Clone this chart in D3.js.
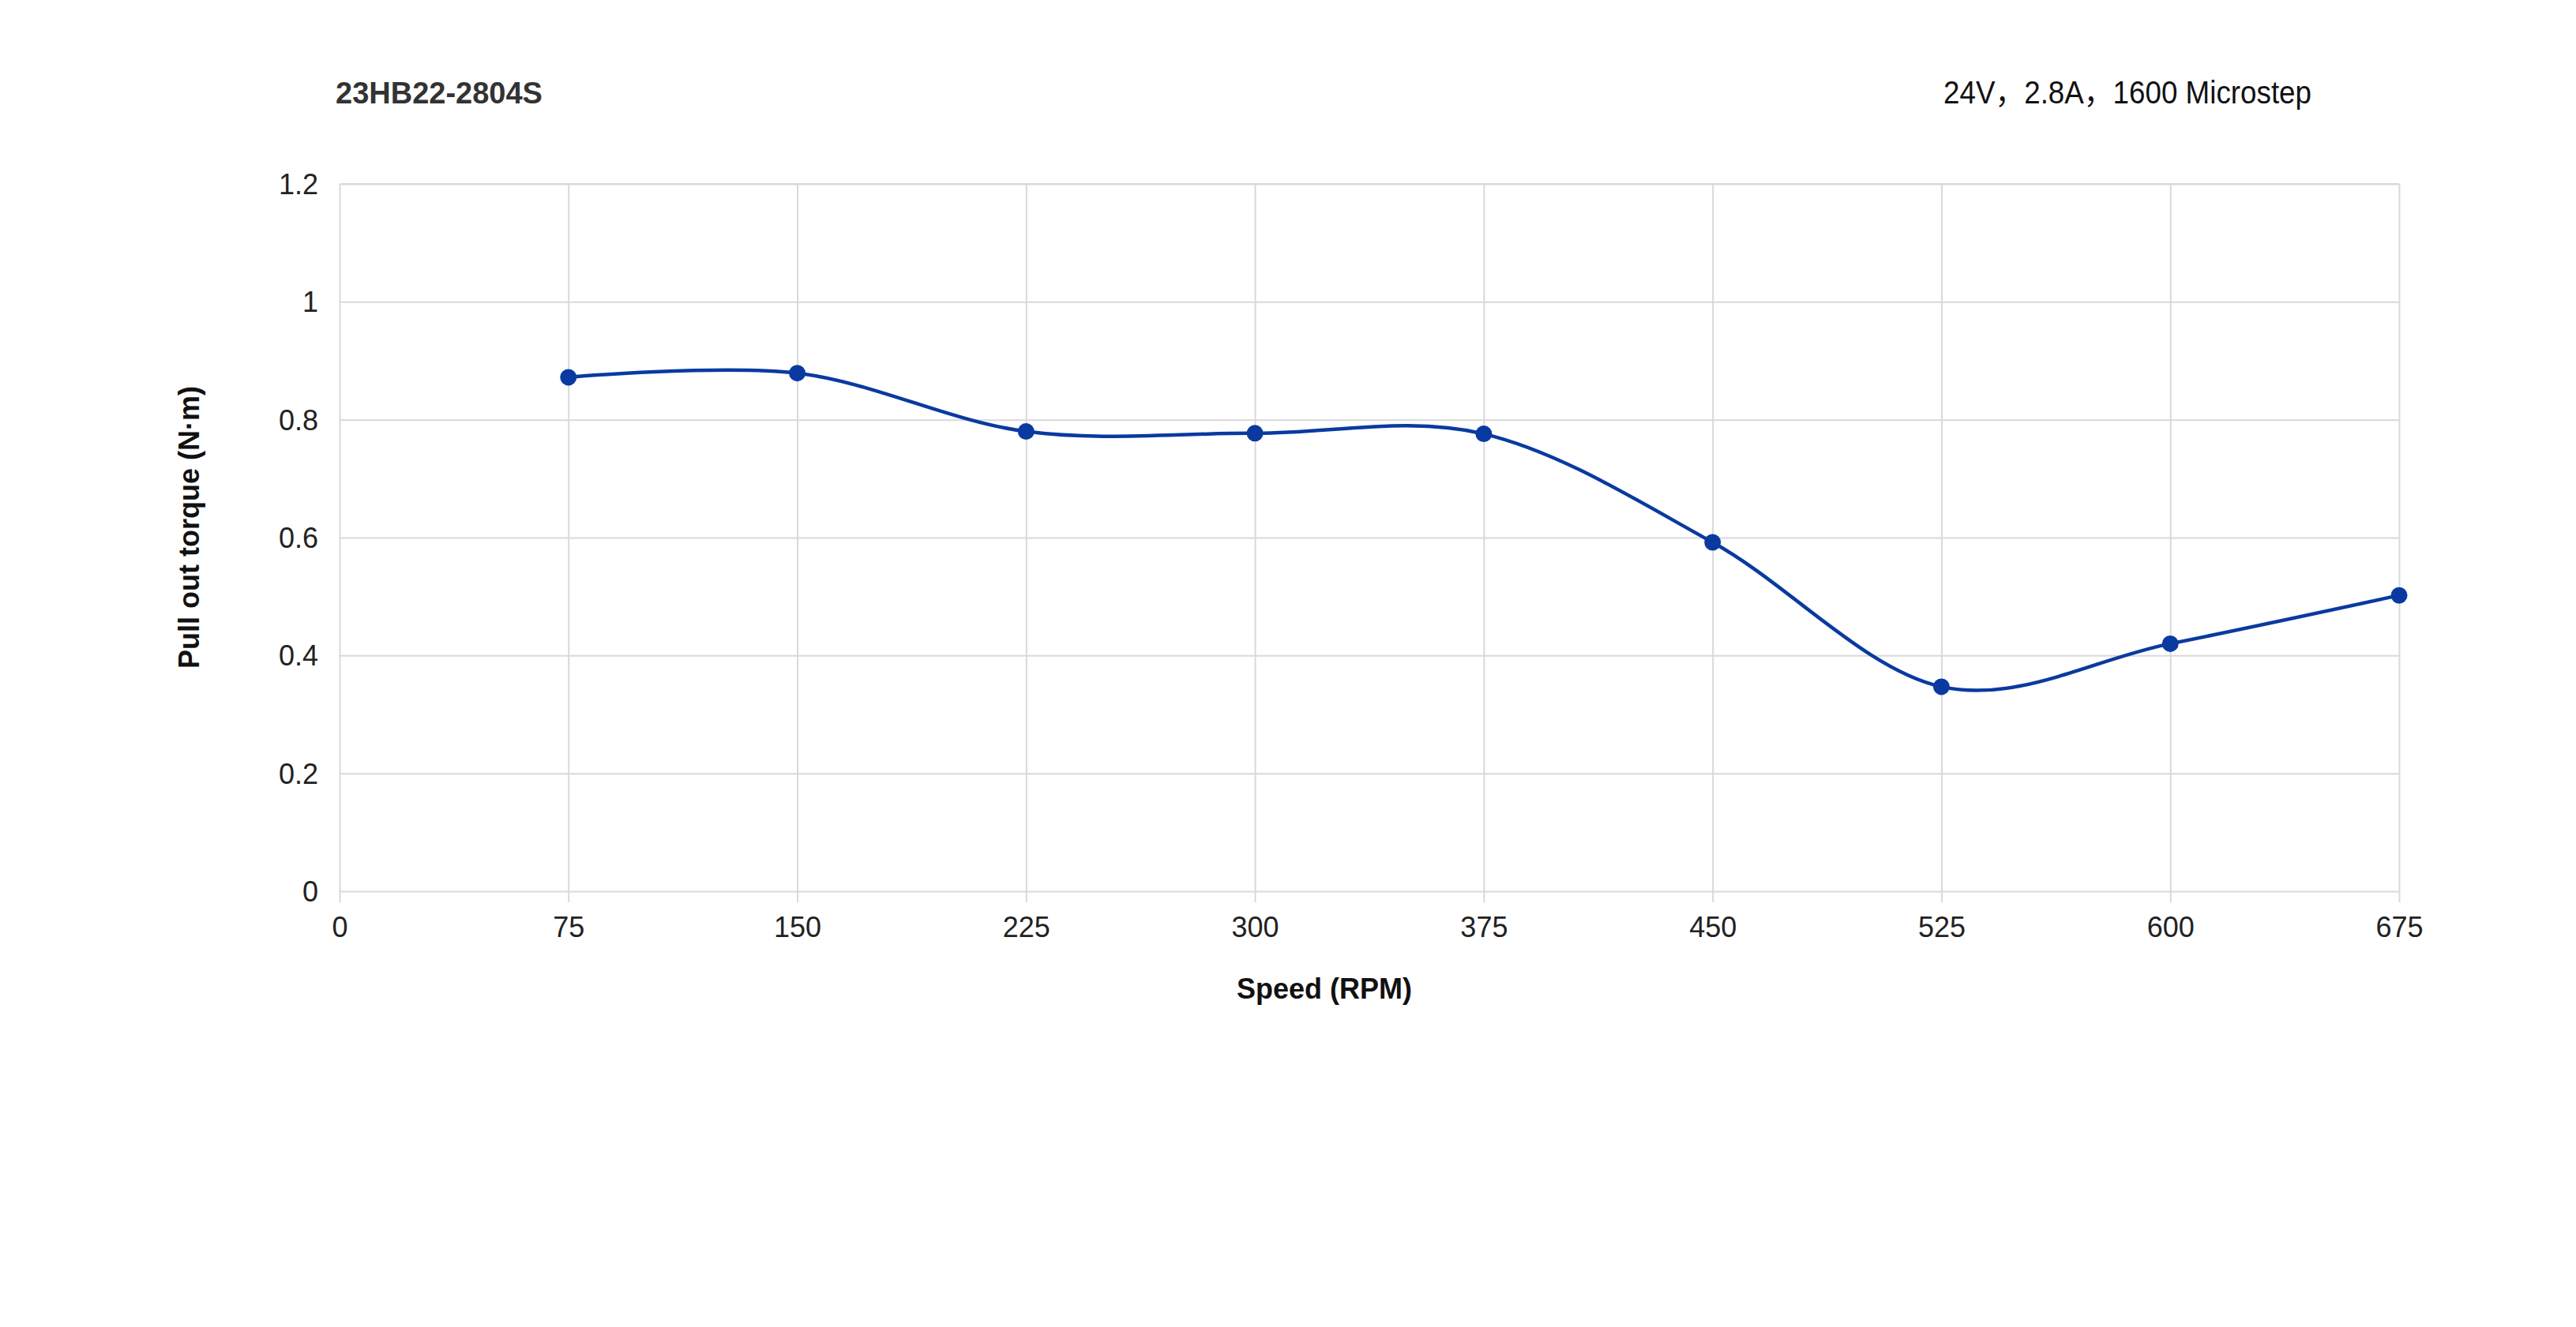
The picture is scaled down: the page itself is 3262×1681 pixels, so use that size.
<!DOCTYPE html>
<html>
<head>
<meta charset="utf-8">
<script src="https://cdn.jsdelivr.net/npm/d3@7"></script>
<style>
  body { margin: 0; background: #fff; }
  svg { display: block; font-family: "Liberation Sans", Arial, sans-serif; }
</style>
</head>
<body>
<svg id="chart" width="3262" height="1681"></svg>
<script>
// data
const speeds = [75, 150, 225, 300, 375, 450, 525, 600, 675];
const torque = [0.872, 0.879, 0.780, 0.777, 0.776, 0.592, 0.347, 0.420, 0.502];
const xTicks = [0, 75, 150, 225, 300, 375, 450, 525, 600, 675];
const yTicks = [0, 0.2, 0.4, 0.6, 0.8, 1, 1.2];

const svg = d3.select("#chart");
const plotLeft = 430, plotRight = 3038, plotTop = 233, plotBottom = 1129;
const plotW = plotRight - plotLeft, plotH = plotBottom - plotTop;
const lineColor = "#0a3aa0";
const gridColor = "#d9d9d9";

svg.append("rect").attr("width", 3262).attr("height", 1681).attr("fill", "#fff");

const x = d3.scaleLinear().domain([0, 675]).range([plotLeft, plotRight]);
const y = d3.scaleLinear().domain([0, 1.2]).range([plotBottom, plotTop]);

// y axis + horizontal grid
const gy = svg.append("g").attr("transform", "translate(" + plotLeft + ",0)")
  .call(d3.axisLeft(y).tickValues(yTicks).tickSize(0).tickPadding(27).tickFormat(d => d));
gy.select(".domain").remove();
gy.selectAll(".tick line").attr("x2", plotW).attr("stroke", gridColor).attr("stroke-width", 2);
gy.selectAll(".tick text").attr("font-size", "36px").attr("fill", "#222").attr("dy", "0.35em")
  .attr("font-family", "'Liberation Sans', Arial, sans-serif");

// x axis + vertical grid
const gx = svg.append("g").attr("transform", "translate(0," + plotBottom + ")")
  .call(d3.axisBottom(x).tickValues(xTicks).tickSize(0).tickPadding(32));
gx.select(".domain").remove();
gx.selectAll(".tick line").attr("y1", 14).attr("y2", -plotH).attr("stroke", gridColor).attr("stroke-width", 2);
gx.selectAll(".tick text").attr("font-size", "36px").attr("fill", "#222")
  .attr("font-family", "'Liberation Sans', Arial, sans-serif");

// top border
svg.append("line").attr("x1", plotLeft).attr("x2", plotRight).attr("y1", plotTop).attr("y2", plotTop)
  .attr("stroke", gridColor).attr("stroke-width", 2);

// curve
const pts = speeds.map((s, i) => [s, torque[i]]);
const line = d3.line().x(d => x(d[0])).y(d => y(d[1])).curve(d3.curveCardinal.tension(0));
svg.append("path").datum(pts).attr("d", line)
  .attr("fill", "none").attr("stroke", lineColor).attr("stroke-width", 4.5);

svg.selectAll(".dot").data(pts).enter().append("circle")
  .attr("class", "dot")
  .attr("cx", d => x(d[0])).attr("cy", d => y(d[1])).attr("r", 10.5)
  .attr("fill", lineColor);

// titles
svg.append("text").text("23HB22-2804S")
  .attr("x", 425).attr("y", 131)
  .attr("font-size", "38px").attr("font-weight", "bold").attr("fill", "#333");

svg.append("text").text("24V，2.8A，1600 Microstep")
  .attr("x", 2461).attr("y", 131)
  .attr("font-family", "'Liberation Sans', 'Noto Sans CJK SC', sans-serif")
  .attr("font-size", "40px").attr("fill", "#111")
  .attr("textLength", 466).attr("lengthAdjust", "spacingAndGlyphs");

svg.append("text").text("Speed (RPM)")
  .attr("x", 1677).attr("y", 1265).attr("text-anchor", "middle")
  .attr("font-size", "36px").attr("font-weight", "bold").attr("fill", "#111");

svg.append("text").text("Pull out torque (N·m)")
  .attr("transform", "translate(252,668) rotate(-90)").attr("text-anchor", "middle")
  .attr("font-size", "36px").attr("font-weight", "bold").attr("fill", "#111");
</script>
</body>
</html>
